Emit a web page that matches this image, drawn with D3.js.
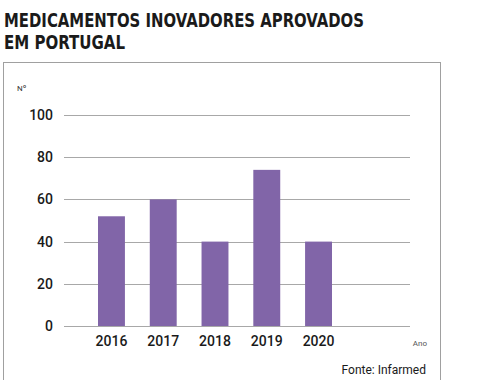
<!DOCTYPE html>
<html><head><meta charset="utf-8">
<script src="https://cdn.jsdelivr.net/npm/d3@7"></script>
<style>body{margin:0;background:#fff}svg{display:block}</style>
</head><body>
<script>
const years = ["2016","2017","2018","2019","2020"];
const values = [52, 60, 40, 74, 40];
const yTicks = [0, 20, 40, 60, 80, 100];
const titleLines = ["MEDICAMENTOS INOVADORES APROVADOS", "EM PORTUGAL"];
const titleWidths = [360, 121];

const W = 491, H = 380;
const svg = d3.select("body").append("svg").attr("width", W).attr("height", H);

const titleFont = "'DejaVu Sans Condensed','Roboto',sans-serif";
svg.selectAll("text.title").data(titleLines).join("text")
  .attr("class","title")
  .attr("x", 4).attr("y", (d,i) => 27 + i*22)
  .attr("font-family", titleFont).attr("font-weight", "bold")
  .attr("font-size", 20).attr("fill", "#1a1a1a")
  .attr("textLength", (d,i) => titleWidths[i]).attr("lengthAdjust","spacingAndGlyphs")
  .text(d => d);

svg.append("rect").attr("x", 3.5).attr("y", 62.5).attr("width", 437).attr("height", 330)
  .attr("fill","none").attr("stroke","#a0a0a0").attr("stroke-width",1);

const y = d3.scaleLinear().domain([0,100]).range([326,115]);
const x = d3.scaleBand().domain(years).range([98,332]).paddingInner(0.48).paddingOuter(0);

const grid = svg.append("g");
grid.selectAll("line").data(yTicks).join("line")
  .attr("x1", 64).attr("x2", 410)
  .attr("y1", d => Math.round(y(d))+0.5).attr("y2", d => Math.round(y(d))+0.5)
  .attr("stroke", "#a8a8a8").attr("stroke-width", 1);

const yAxis = d3.axisLeft(y).tickValues(yTicks).tickSize(0).tickPadding(0);
const ga = svg.append("g").attr("transform","translate(53,0)").call(yAxis);
ga.select(".domain").remove();
ga.selectAll("text").attr("font-family","Roboto, sans-serif").attr("font-weight",500)
  .attr("font-size",14).attr("fill","#1a1a1a");

svg.append("g").selectAll("rect").data(values).join("rect")
  .attr("x", (d,i) => x(years[i])).attr("width", x.bandwidth())
  .attr("y", d => y(d)).attr("height", d => y(0) - y(d))
  .attr("fill", "#8165a8");

const xAxis = d3.axisBottom(x).tickSize(0).tickPadding(0);
const gx = svg.append("g").attr("transform","translate(0,336)").call(xAxis);
gx.select(".domain").remove();
gx.selectAll("text").attr("font-family","Roboto, sans-serif").attr("font-weight",500)
  .attr("font-size",14).attr("fill","#1a1a1a");

svg.append("text").attr("x", 17).attr("y", 91).attr("font-family","Roboto, sans-serif")
  .attr("font-size", 8).attr("fill","#333").text("Nº");

svg.append("text").attr("x", 427).attr("y", 346).attr("text-anchor","end")
  .attr("font-family","Roboto, sans-serif").attr("font-size", 8).attr("fill","#555").text("Ano");

svg.append("text").attr("x", 426).attr("y", 374).attr("text-anchor","end")
  .attr("font-family","Roboto, sans-serif").attr("font-size", 12).attr("fill","#1a1a1a").text("Fonte: Infarmed");
</script>
</body></html>
